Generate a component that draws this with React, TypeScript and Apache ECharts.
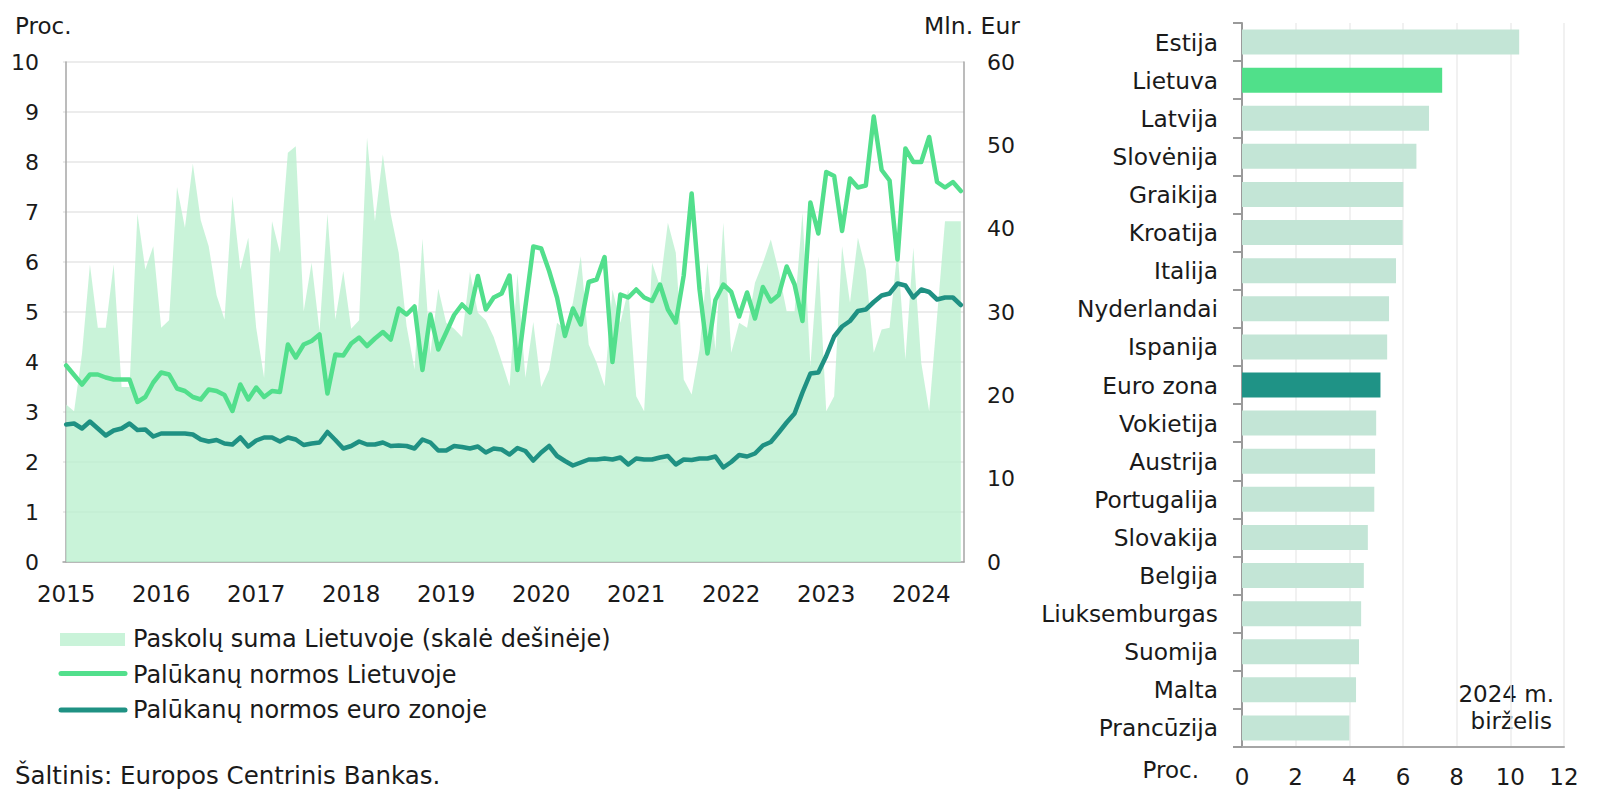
import React, { useEffect, useRef } from "react";
import * as echarts from "echarts";

// Months from 2015-01 to 2024-06 (index 0 = Jan 2015)
const firstYear = 2015;
const yearLabels = ["2015", "2016", "2017", "2018", "2019", "2020", "2021", "2022", "2023", "2024"];

// Paskolų suma Lietuvoje, mln. Eur (right scale)
const loanSum = [
  18.9, 18.1, 25, 35.7, 28.1, 28.1, 35.7, 21, 21, 41.8, 35.1, 37.9,
  28.1, 29, 45, 40.1, 47.8, 41, 37.9, 32, 29.1, 43.9, 35.1, 38.9,
  28.1, 22.1, 40.9, 37.1, 49.1, 49.9, 30.1, 35.9, 27.7, 41.8, 29.1, 34.9,
  28, 29, 50.9, 40.9, 48.9, 41.7, 37.1, 28.3, 23.1, 38.8, 25, 32.8,
  28.7, 28, 27, 34.8, 29.9, 29, 27, 24.1, 21.1, 34.6, 22.1, 28.8,
  21, 23.1, 28.7, 27.9, 31.1, 36.7, 26.1, 23.9, 21.1, 32.7, 28.7, 32.7,
  19.9, 18.1, 35.9, 33.1, 40.7, 37.1, 21.9, 20.1, 25.5, 35.9, 25.5, 40.7,
  25.1, 28.7, 28.1, 33.5, 35.9, 38.7, 34.9, 30.1, 30.1, 41.9, 23.5, 36.7,
  18.1, 19.9, 37.9, 31.1, 38.9, 35.1, 25.1, 27.9, 28.1, 37.5, 24.3, 37.7,
  23.9, 18.1, 29.5, 40.9, 40.9, 40.9,
];

// Palūkanų normos Lietuvoje, %
const rateLT = [
  3.93, 3.74, 3.55, 3.75, 3.75, 3.69, 3.65, 3.65, 3.65, 3.2, 3.3, 3.59,
  3.79, 3.75, 3.47, 3.42, 3.3, 3.25, 3.45, 3.42, 3.34, 3.02, 3.55, 3.25,
  3.49, 3.3, 3.42, 3.4, 4.35, 4.09, 4.35, 4.42, 4.55, 3.37, 4.15, 4.13,
  4.37, 4.49, 4.32, 4.47, 4.6, 4.45, 5.07, 4.95, 5.11, 3.84, 4.95, 4.25,
  4.59, 4.94, 5.15, 4.99, 5.72, 5.05, 5.29, 5.37, 5.73, 3.84, 5.1, 6.31,
  6.27, 5.82, 5.29, 4.52, 5.07, 4.75, 5.6, 5.65, 6.1, 4.0, 5.35, 5.29,
  5.45, 5.29, 5.22, 5.55, 5.05, 4.79, 5.73, 7.37, 5.45, 4.17, 5.24, 5.55,
  5.4, 4.91, 5.39, 4.87, 5.5, 5.21, 5.34, 5.91, 5.55, 4.82, 7.19, 6.57,
  7.8, 7.72, 6.62, 7.67, 7.49, 7.53, 8.91, 7.84, 7.63, 6.05, 8.27, 8.0,
  8.0, 8.5, 7.6, 7.49, 7.6, 7.42,
];

// Palūkanų normos euro zonoje, %
const rateEZ = [
  2.75, 2.77, 2.67, 2.81, 2.67, 2.53, 2.63, 2.67, 2.77, 2.64, 2.65, 2.51,
  2.57, 2.57, 2.57, 2.57, 2.55, 2.45, 2.41, 2.44, 2.37, 2.35, 2.49, 2.31,
  2.43, 2.49, 2.49, 2.41, 2.49, 2.45, 2.34, 2.37, 2.39, 2.6, 2.44, 2.27,
  2.32, 2.41, 2.35, 2.35, 2.39, 2.32, 2.33, 2.32, 2.27, 2.45, 2.39, 2.23,
  2.23, 2.32, 2.3, 2.27, 2.31, 2.19, 2.27, 2.25, 2.15, 2.28, 2.22, 2.03,
  2.19, 2.32, 2.12, 2.02, 1.93, 1.99, 2.05, 2.05, 2.07, 2.05, 2.09, 1.95,
  2.07, 2.05, 2.05, 2.09, 2.12, 1.95, 2.05, 2.04, 2.07, 2.07, 2.11, 1.89,
  2.0, 2.14, 2.11, 2.17, 2.33, 2.4, 2.59, 2.79, 2.97, 3.39, 3.77, 3.79,
  4.12, 4.51, 4.71, 4.82, 5.02, 5.05, 5.2, 5.33, 5.37, 5.57, 5.53, 5.29,
  5.45, 5.4, 5.25, 5.29, 5.29, 5.14,
];

// 2024 m. birželis
const countries = [
  "Estija", "Lietuva", "Latvija", "Slovėnija", "Graikija", "Kroatija", "Italija",
  "Nyderlandai", "Ispanija", "Euro zona", "Vokietija", "Austrija", "Portugalija",
  "Slovakija", "Belgija", "Liuksemburgas", "Suomija", "Malta", "Prancūzija",
];
const countryRates = [
  10.33, 7.46, 6.97, 6.5, 6.01, 5.99, 5.74, 5.48, 5.41, 5.16, 5.0, 4.96, 4.93,
  4.69, 4.54, 4.44, 4.36, 4.25, 4.0,
];

const legendNames = [
  "Paskolų suma Lietuvoje (skalė dešinėje)",
  "Palūkanų normos Lietuvoje",
  "Palūkanų normos euro zonoje",
];

const FONT = "DejaVu Sans";
const TXT = "#1a1a1a";
const AREA = "rgba(188,240,208,0.8)";
const AREA_SOLID = "#c9f3d9";
const LT = "#52df8c";
const EZ = "#1f9183";
const BAR = "#c3e5d6";
const AXIS = "#a6a6a6";

export default function App() {
  const ref = useRef<HTMLDivElement>(null);
  useEffect(() => {
    const chart = echarts.init(ref.current!, null, { renderer: "svg" });
    const janIdx = yearLabels.map((_, k) => k * 12);
    const option: any = {
      animation: false,
      textStyle: { fontFamily: FONT },
      grid: [
        { left: 63, top: 62, width: 901, height: 500 },
        { left: 1242, top: 23, width: 322, height: 724 },
      ],
      xAxis: [
        {
          gridIndex: 0,
          type: "value",
          min: -0.4,
          max: 113.4,
          axisLine: { show: true, lineStyle: { color: AXIS, width: 1.5 } },
          axisTick: { show: false },
          splitLine: { show: false },
          axisLabel: {
            customValues: janIdx,
            formatter: (v: number) => yearLabels[Math.round(v / 12)] ?? String(firstYear + Math.round(v / 12)),
            fontFamily: FONT,
            fontSize: 23,
            color: TXT,
            margin: 20,
          },
        },
        {
          gridIndex: 1,
          type: "value",
          min: 0,
          max: 12,
          interval: 2,
          axisLine: { show: true, lineStyle: { color: AXIS, width: 2 } },
          axisTick: { show: false },
          splitLine: { show: true, lineStyle: { color: "#ececec", width: 1.5 } },
          axisLabel: { fontFamily: FONT, fontSize: 23, color: TXT, margin: 18 },
        },
      ],
      yAxis: [
        {
          gridIndex: 0,
          type: "value",
          min: 0,
          max: 10,
          interval: 1,
          position: "left",
          axisLine: { show: true, lineStyle: { color: AXIS, width: 1.5 } },
          axisTick: { show: false },
          splitLine: { show: true, lineStyle: { color: "#e6e6e6", width: 1.5 } },
          axisLabel: { fontFamily: FONT, fontSize: 22, color: TXT, margin: 24 },
        },
        {
          gridIndex: 0,
          type: "value",
          min: 0,
          max: 60,
          interval: 10,
          position: "right",
          axisLine: { show: true, lineStyle: { color: AXIS, width: 1.5 } },
          axisTick: { show: false },
          splitLine: { show: false },
          axisLabel: { fontFamily: FONT, fontSize: 22, color: TXT, margin: 23 },
        },
        {
          gridIndex: 1,
          type: "category",
          inverse: true,
          data: countries,
          axisLine: { show: true, lineStyle: { color: "#9a9a9a", width: 2 } },
          axisTick: { show: true, length: 9, lineStyle: { color: "#9a9a9a", width: 2 } },
          axisLabel: { fontFamily: FONT, fontSize: 23.3, color: TXT, margin: 24 },
        },
      ],
      series: [
        {
          name: legendNames[0],
          type: "line",
          xAxisIndex: 0,
          yAxisIndex: 1,
          data: loanSum.map((v, i) => [i, v]),
          showSymbol: false,
          symbol: "none",
          lineStyle: { width: 0, opacity: 0 },
          areaStyle: { color: AREA, opacity: 1 },
          z: 1,
        },
        {
          name: legendNames[2],
          type: "line",
          xAxisIndex: 0,
          yAxisIndex: 0,
          data: rateEZ.map((v, i) => [i, v]),
          showSymbol: false,
          symbol: "none",
          lineStyle: { color: EZ, width: 4.5, cap: "round", join: "round" },
          z: 3,
        },
        {
          name: legendNames[1],
          type: "line",
          xAxisIndex: 0,
          yAxisIndex: 0,
          data: rateLT.map((v, i) => [i, v]),
          showSymbol: false,
          symbol: "none",
          lineStyle: { color: LT, width: 4.5, cap: "round", join: "round" },
          z: 4,
        },
        {
          type: "bar",
          xAxisIndex: 1,
          yAxisIndex: 2,
          data: countryRates.map((v, i) => ({
            value: v,
            itemStyle: {
              color: countries[i] === "Lietuva" ? "#50e08a" : countries[i] === "Euro zona" ? "#1f9386" : BAR,
            },
          })),
          barWidth: 25,
          z: 2,
        },
      ],
      graphic: [
        { type: "text", left: 15, top: 14, style: { text: "Proc.", font: `23px '${FONT}'`, fill: TXT } },
        { type: "text", right: 580, top: 14, style: { text: "Mln. Eur", font: `23.5px '${FONT}'`, fill: TXT } },
        // legend
        { type: "rect", shape: { x: 60, y: 633, width: 65, height: 13 }, style: { fill: AREA_SOLID } },
        { type: "line", shape: { x1: 61, y1: 673.5, x2: 125, y2: 673.5 }, style: { stroke: LT, lineWidth: 5, lineCap: "round" } },
        { type: "line", shape: { x1: 61, y1: 710, x2: 125, y2: 710 }, style: { stroke: EZ, lineWidth: 5, lineCap: "round" } },
        { type: "text", x: 133, y: 639, style: { text: legendNames[0], font: `24px '${FONT}'`, fill: TXT, verticalAlign: "middle" } },
        { type: "text", x: 133, y: 675, style: { text: legendNames[1], font: `24px '${FONT}'`, fill: TXT, verticalAlign: "middle" } },
        { type: "text", x: 133, y: 710, style: { text: legendNames[2], font: `24px '${FONT}'`, fill: TXT, verticalAlign: "middle" } },
        { type: "text", x: 15, y: 775, style: { text: "Šaltinis: Europos Centrinis Bankas.", font: `24.5px '${FONT}'`, fill: TXT, verticalAlign: "middle" } },
        // right chart notes
        { type: "text", x: 1199, y: 770, style: { text: "Proc.", font: `23px '${FONT}'`, fill: TXT, align: "right", verticalAlign: "middle" } },
        { type: "text", x: 1554, y: 694, style: { text: "2024 m.", font: `23px '${FONT}'`, fill: TXT, align: "right", verticalAlign: "middle" } },
        { type: "text", x: 1552, y: 721, style: { text: "birželis", font: `23px '${FONT}'`, fill: TXT, align: "right", verticalAlign: "middle" } },
      ],
    };
    chart.setOption(option);
    return () => chart.dispose();
  }, []);
  return (
    <div
      ref={ref}
      style={{ position: "absolute", left: 0, top: 0, width: 1600, height: 806, background: "#ffffff" }}
    />
  );
}
